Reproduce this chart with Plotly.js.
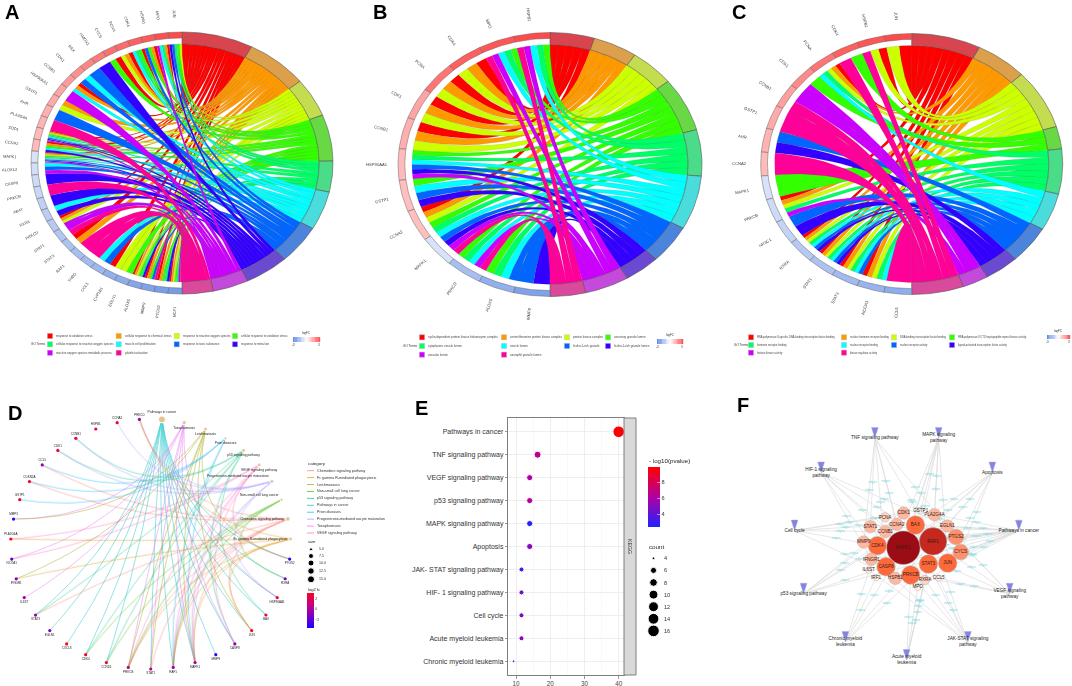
<!DOCTYPE html>
<html><head><meta charset="utf-8">
<script src="https://cdn.plot.ly/plotly-3.0.1.min.js"></script>
<style>html,body{margin:0;padding:0;background:#fff}#c{width:1072px;height:686px}</style>
</head><body><div id="c"></div>
<script>
// ---------- DATA ----------
const ribbonColors=["#FF0000","#FF9900","#CCFF00","#33FF00","#00FF66","#00FFFF","#0066FF","#3300FF","#CC00FF","#FF0099"];
const ringColors=["#d9454f","#dca04c","#c4dc50","#68d945","#4adc88","#4adcdc","#4c84dc","#6a4ad0","#c44adc","#d94a9c"];

const genesA=["JUN","MPO","HSPB1","CDK4","PCNA","CYCS","HMOX1","BAX","CDK1","CCNB1","HSP90AA1","GSTP1","AHR","PLA2G4A","SOD1","CCNA2","MAPK1","ALOX12","CASP8","PRKCB","ABAT","RXRA","PRKCD","STAT1","STAT3","RAF1","THBD","CCL5","CYP1B1","EGLN1","ALOX5","MMP9","PTGS2","NCF1"];
const linksA=["23467","01458","0136","0345","012","03","7","6","56","015","8","12","6","9","012345678","01357","012345678","568","7","9","7","57","0128","89","01","9","9","56","02","23","012347","01369","01347","0123489"];
const logFCA=[3.4,3.3,3.1,3,2.8,2.7,2.5,2.3,2.1,1.9,1.7,1.6,1.5,1.4,1.3,1.3,-0.8,-0.9,-1,-1.1,-1.3,-1.4,-1.5,-1.6,-1.7,-1.8,-1.9,-2,-2.2,-2.3,-2.5,-2.6,-2.7,-2.8];
const termsA=["response to oxidative stress","cellular response to chemical stress","response to reactive oxygen species","cellular response to oxidative stress","cellular response to reactive oxygen species","muscle cell proliferation","response to toxic substance","response to metal ion","reactive oxygen species metabolic process","platelet activation"];

const genesB=["HSPB1","MPO","CDK4","PCNA","CDK1","CCNB1","HSP90AA1","GSTP1","CCNA2","MAPK1","PRKCD","ALOX5","MMP9"];
const linksB=["34589","34589","012","012","012","012","345678","3567","01234","56789","34589","3456","67"];
const logFCB=[3.4,3.2,3,2.6,1.7,1.5,1.3,1.2,1.2,-0.8,-1.8,-2.2,-2.6];
const termsB=["cyclin-dependent protein kinase holoenzyme complex","serine/threonine protein kinase complex","protein kinase complex","secretory granule lumen","cytoplasmic vesicle lumen","vesicle lumen","ficolin-1-rich granule","ficolin-1-rich granule lumen","vacuolar lumen","azurophil granule lumen"];

const genesC=["JUN","HSPB1","CDK4","PCNA","CDK1","CCNB1","GSTP1","AHR","CCNA2","MAPK1","PRKCB","NR3C1","RXRA","STAT1","STAT3","NCOA1","CCL5"];
const linksC=["02","029","39","01245","38","89","9","67","9","3","01248","67","0124567","0124567","012456","01245","9"];
const logFCC=[3.4,3.2,3,2.6,2.2,1.8,1.6,1.4,1.3,-0.8,-1,-1.2,-1.5,-1.7,-1.9,-2.1,-2.3];
const termsC=["RNA polymerase II-specific DNA-binding transcription factor binding","nuclear hormone receptor binding","DNA-binding transcription factor binding","RNA polymerase II CTD heptapeptide repeat kinase activity","hormone receptor binding","nuclear receptor binding","nuclear receptor activity","ligand-activated transcription factor activity","histone kinase activity","kinase regulator activity"];

const dTerms=["Pathways in cancer","Toxoplasmosis","Leishmaniasis","Prion diseases","p53 signaling pathway","VEGF signaling pathway","Progesterone-mediated oocyte maturation","Non-small cell lung cancer","Chemokine signaling pathway","Fc gamma R-mediated phagocytosis"];
const dGenes=["PTGS2","RXRA","HSP90AA1","BAX","JUN","CASP8","MMP9","MAPK1","RAF1","STAT1","PRKCB","CCND1","CDK4","CXCL8","EGLN1","STAT3","IL6ST","IFNGR1","NCOA1","PLA2G4A","MMP3","GSTP1","CDKN2A","CCL5","CDK1","CCNB1","HSPB1","CCNA2","PRKCD"];
const dLogFC=[-3,-1,2.5,2.6,3,-0.6,-2.8,0.2,-0.3,0.3,0.3,2.8,3,3,-1,-0.6,-0.2,-0.8,-2,2.8,-3.5,2.6,2.6,-0.5,2.6,2.6,2.8,2.3,-0.3];
const dEdges=[
 ["PTGS2","BAX","CASP8","MMP9","CXCL8","EGLN1","CCND1","HSP90AA1","STAT3","STAT1","RAF1","MAPK1","CDK4","JUN","RXRA"],
 ["NCOA1","IL6ST","MMP3","STAT1","MAPK1","CASP8","HSP90AA1","PRKCB"],
 ["IFNGR1","MMP3","PTGS2","JUN","MAPK1","STAT1","PRKCB"],
 ["CCL5","CDKN2A","GSTP1","MAPK1","RAF1"],
 ["CCNB1","CDK1","CDK4","CASP8","BAX","CCND1","STAT3"],
 ["PLA2G4A","PTGS2","PRKCB","RAF1","MAPK1","NCOA1","CASP8"],
 ["CCNA2","CDK1","CCNB1","MAPK1","RAF1","HSP90AA1","PRKCD"],
 ["RXRA","CDK4","CCND1","PRKCB","RAF1"],
 ["CCL5","STAT1","STAT3","RAF1","MAPK1","PRKCB","PRKCD","CDKN2A","JUN"],
 ["PLA2G4A","PRKCD","PRKCB","MAPK1","RAF1","JUN","IFNGR1"]];
const dCategory=["Chemokine signaling pathway","Fc gamma R-mediated phagocytosis","Leishmaniasis","Non-small cell lung cancer","p53 signaling pathway","Pathways in cancer","Prion diseases","Progesterone-mediated oocyte maturation","Toxoplasmosis","VEGF signaling pathway"];
const dCategoryColors=["#F8766D","#D89000","#A3A500","#39B600","#00BF7D","#00BFC4","#00B0F6","#9590FF","#E76BF3","#FF62BC"];
const dSizeKeys=[5,7.5,10,12.5,15];

const ePathways=["Pathways in cancer","TNF signaling pathway","VEGF signaling pathway","p53 signaling pathway","MAPK signaling pathway","Apoptosis","JAK- STAT signaling pathway","HIF- 1 signaling pathway","Cell cycle","Acute myeloid leukemia","Chronic myeloid leukemia"];
const eRatio=[40,16.3,14,14,14,14,11.6,11.6,11.6,11.6,9.3];
const eCount=[16,7,6,6,6,6,5,5,5,5,4];
const ePvalue=[9.8,6.7,6,6.2,2.5,5,3.5,4.4,4.6,5,3.5];
const eCountKeys=[4,6,8,10,12,14,16];

const fPathways=["MAPK signaling<br>pathway","Apoptosis","Pathways in cancer","VEGF signaling<br>pathway","JAK-STAT signaling<br>pathway","Acute myeloid<br>leukemia","Chronic myeloid<br>leukemia","p53 signaling pathway","Cell cycle","HIF-1 signaling<br>pathway","TNF signaling pathway"];
const fGenes=["MAPK1","RAF1","BAX","CDK4","CASP8","PRKCB","STAT3","JUN","CYCS","PTGS2","EGLN1","PLA2G4A","GSTP1","CDK1","PCNA","CCNA2","CCNB1","STAT1","MMP9","IFNGR1","IL6ST","IRF1","HSPB1","RXRA","MPO","CCL5"];
const fGeneDegree=[10,8,5,5,5,5,5,5,4,4,3,3,1,3,2,3,3,3,3,3,1,1,3,2,1,1];
const fLayoutX=[-10,79,26,-88,-62,12,65,123,162,148,122,83,42,-9,-65,-30,-64,-109,-129,-106,-114,-92,-34,55,33,96];
const fLayoutY=[-3,16,65,3,-60,-85,-52,-49,-16,29,62,96,109,101,88,67,45,60,14,-38,-70,-93,-95,-100,-122,-94];
const fEdges=[
 ["MAPK1","RAF1","PRKCB","HSPB1","JUN","PLA2G4A","CASP8","GSTP1"],
 ["BAX","CASP8","CYCS","JUN","MAPK1","RAF1","EGLN1"],
 ["MAPK1","RAF1","BAX","CDK4","CASP8","PRKCB","STAT3","JUN","CYCS","PTGS2","EGLN1","STAT1","MMP9","IFNGR1","RXRA","PLA2G4A"],
 ["MAPK1","RAF1","PRKCB","PTGS2","PLA2G4A","CCL5"],
 ["STAT1","STAT3","RAF1","IFNGR1","IL6ST","MAPK1","CCL5"],
 ["RAF1","STAT3","PRKCB","RXRA","MPO"],
 ["MAPK1","RAF1","CDK4","STAT3","IRF1"],
 ["CDK4","CDK1","CCNB1","BAX","CASP8","CYCS"],
 ["CDK1","CDK4","CCNA2","CCNB1","PCNA","HSPB1"],
 ["EGLN1","RAF1","MAPK1","STAT3","IFNGR1","HSPB1"],
 ["MAPK1","CASP8","JUN","PTGS2","MMP9","CCNA2","STAT1"]];

// ---------- HELPERS ----------
const W=1072,H=686,FONT='"Liberation Sans",Arial,sans-serif';
const PX=v=>v/W, PY=v=>1-v/H;
const traces=[],shapes=[],annotations=[],layout={};
function ann(text,x,y,size,o={}){annotations.push(Object.assign({text,x:PX(x),y:PY(y),xref:'paper',yref:'paper',showarrow:false,
  xanchor:'left',yanchor:'middle',borderpad:0,font:{family:FONT,size,color:o.color||'#222'}},o.extra||{}));}
function axes(n,cx,cy,rx,ry,R){const s=n==1?'':n;
  layout['xaxis'+s]={domain:[PX(cx-rx*R),PX(cx+rx*R)],range:[-R,R],visible:false,fixedrange:true,anchor:'y'+s};
  layout['yaxis'+s]={domain:[PY(cy+ry*R),PY(cy-ry*R)],range:[-R,R],visible:false,fixedrange:true,anchor:'x'+s};
  return {x:'x'+s,y:'y'+s};}
function mix(a,b,t){const p=h=>[1,3,5].map(i=>parseInt(h.substr(i,2),16));const A=p(a),B=p(b);
  return 'rgb('+A.map((v,i)=>Math.round(v+(B[i]-v)*t)).join(',')+')';}
function fcColor(v){return v>=0?mix('#ffffff','#ff2a2a',Math.min(1,v/4)):mix('#ffffff','#3a70e0',Math.min(1,-v/4));}
const rad=d=>d*Math.PI/180;
function arcPts(a,b,r,side){const n=Math.max(2,Math.ceil(Math.abs(b-a)/1.5)),o=[];
  for(let i=0;i<=n;i++){const t=rad(a+(b-a)*i/n);o.push([side*Math.sin(t)*r,Math.cos(t)*r]);}return o;}
function bez(p,q){const o=[];for(let i=1;i<20;i++){const t=i/20;o.push([p[0]*(1-t)*(1-t)+q[0]*t*t,p[1]*(1-t)*(1-t)+q[1]*t*t]);}return o;}

function chord(n,genes,links,logFC,terms,g){
  const ax=axes(n,g.cx,g.cy,g.rx,g.ry,1.05),RI=0.908,ng=genes.length,uG=180/ng;
  const all=[];links.forEach((s,i)=>s.split('').forEach((c,k)=>all.push({g:i,t:+c,k,m:s.length})));
  const uT=180/all.length,polys=ribbonColors.map(()=>({x:[],y:[]}));let phi=0;const bounds=[];
  ribbonColors.forEach((col,t)=>{const L=all.filter(l=>l.t==t).sort((a,b)=>a.g-b.g);const st=phi;
    L.forEach(l=>{const f1=phi,f2=phi+uT;phi=f2;const w=uG/l.m,a1=l.g*uG+l.k*w,a2=a1+w;
      const A=arcPts(f1,f2,RI,1),B=arcPts(a2,a1,RI,-1);
      const path=[...A,...bez(A[A.length-1],B[0]),...B,...bez(B[B.length-1],A[0])];
      path.forEach(p=>{polys[t].x.push(p[0]);polys[t].y.push(p[1]);});polys[t].x.push(null);polys[t].y.push(null);});
    bounds.push([st,phi]);});
  polys.forEach((p,t)=>traces.push({type:'scatter',mode:'lines',x:p.x,y:p.y,fill:'toself',fillcolor:ribbonColors[t],
    line:{color:'rgba(110,110,110,0.45)',width:0.3},hoverinfo:'skip',xaxis:ax.x,yaxis:ax.y}));
  bounds.forEach((b,t)=>{const P=[...arcPts(b[0],b[1],1,1),...arcPts(b[1],b[0],RI,1)];P.push(P[0]);
    traces.push({type:'scatter',mode:'lines',x:P.map(p=>p[0]),y:P.map(p=>p[1]),fill:'toself',fillcolor:ringColors[t],
      line:{color:'#555',width:0.6},hoverinfo:'skip',xaxis:ax.x,yaxis:ax.y});});
  genes.forEach((name,i)=>{const P=[...arcPts(i*uG,(i+1)*uG,1,-1),...arcPts((i+1)*uG,i*uG,0.955,-1)];P.push(P[0]);
    traces.push({type:'scatter',mode:'lines',x:P.map(p=>p[0]),y:P.map(p=>p[1]),fill:'toself',fillcolor:fcColor(logFC[i]),
      line:{color:'#666',width:0.5},hoverinfo:'skip',xaxis:ax.x,yaxis:ax.y});
    const th=(i+.5)*uG,r=1.14;
    ann(name,g.cx-g.rx*r*Math.sin(rad(th)),g.cy-g.ry*r*Math.cos(rad(th)),g.lab,{color:'#444',extra:{xanchor:'center',textangle:90-th}});});
  const L=g.leg;
  ann('GO Terms',L.go,L.rows[1],3.1,{color:'#333'});
  const pos=[[0,0],[1,0],[2,0],[3,0],[0,1],[1,1],[2,1],[3,1],[0,2],[1,2]];
  terms.forEach((t,i)=>{const x=L.cols[pos[i][0]],y=L.rows[pos[i][1]];
    shapes.push({type:'rect',xref:'paper',yref:'paper',x0:PX(x-2.6),x1:PX(x+2.6),y0:PY(y+2.6),y1:PY(y-2.6),fillcolor:ribbonColors[i],line:{color:'#bbb',width:0.4}});
    ann(t,x+5,y,L.fs,{color:'#444'});});
  const b=L.bar,K=20;
  for(let i=0;i<K;i++){const v=-3.4+6.8*(i+.5)/K;shapes.push({type:'rect',xref:'paper',yref:'paper',layer:'below',
    x0:PX(b.x0+(b.x1-b.x0)*i/K),x1:PX(b.x0+(b.x1-b.x0)*(i+1)/K+.2),y0:PY(b.y1),y1:PY(b.y0),fillcolor:fcColor(v),line:{width:0}});}
  ann('logFC',(b.x0+b.x1)/2,b.y0-3.6,3,{color:'#333',extra:{xanchor:'center'}});
  ann('-3',b.x0,b.y1+2.8,3,{color:'#333',extra:{xanchor:'center'}});
  ann('3',b.x1-1,b.y1+2.8,3,{color:'#333',extra:{xanchor:'center'}});
}
chord(1,genesA,linksA,logFCA,termsA,{cx:182,cy:163,rx:151,ry:131,lab:4,
  leg:{go:30,cols:[50,118.7,176.7,235],rows:[336,344.3,352.8],fs:2.95,bar:{x0:293,x1:320,y0:337,y1:342}}});
chord(2,genesB,linksB,logFCB,termsB,{cx:550,cy:164.5,rx:152,ry:132,lab:4.2,
  leg:{go:402,cols:[422,504,567,608],rows:[337.3,346,354.7],fs:2.95,bar:{x0:657,x1:683,y0:339,y1:344}}});
chord(3,genesC,linksC,logFCC,termsC,{cx:911.7,cy:164,rx:151,ry:130.5,lab:4.2,
  leg:{go:733,cols:[751,844,894,952],rows:[337.3,345,352.7],fs:2.6,bar:{x0:1047,x1:1070,y0:335,y1:339}}});

// ---------- D: circular gene-concept network ----------
(function(){
  const ax=axes(4,150.7,544,140,125,1.05),N=dTerms.length+dGenes.length,step=360/N;
  const pos=i=>{const a=rad(4.6+step*i);return [Math.sin(a),Math.cos(a)];};
  const geneXY=g=>pos(dTerms.length+dGenes.indexOf(g));
  dEdges.forEach((list,t)=>{const xs=[],ys=[],p=pos(t);
    list.forEach(g=>{const q=geneXY(g),mx=(p[0]+q[0])/2,my=(p[1]+q[1])/2,c=[mx*0.35,my*0.35];
      for(let i=0;i<=30;i++){const u=i/30,v=1-u;xs.push(v*v*p[0]+2*u*v*c[0]+u*u*q[0]);ys.push(v*v*p[1]+2*u*v*c[1]+u*u*q[1]);}
      xs.push(null);ys.push(null);});
    const col=dCategoryColors[dCategory.indexOf(dTerms[t])];
    traces.push({type:'scatter',mode:'lines',x:xs,y:ys,line:{color:col,width:0.6},opacity:0.7,hoverinfo:'skip',xaxis:ax.x,yaxis:ax.y});});
  const tp=dTerms.map((_,i)=>pos(i));
  traces.push({type:'scatter',mode:'markers+text',x:tp.map(p=>p[0]),y:tp.map(p=>p[1]),text:dTerms,
    textposition:dTerms.map((_,i)=>i==0?'top center':(i<6?'bottom center':(i<8?'top left':'middle left'))),textfont:{family:FONT,size:3.3,color:'#222'},
    marker:{color:'#E5C494',opacity:1,size:dEdges.map(l=>3+0.4*(l.length-5))},cliponaxis:false,hoverinfo:'skip',xaxis:ax.x,yaxis:ax.y});
  const gp=dGenes.map(geneXY);
  traces.push({type:'scatter',mode:'markers+text',x:gp.map(p=>p[0]),y:gp.map(p=>p[1]),text:dGenes,
    textposition:gp.map(p=>p[1]>0?'top center':'bottom center'),textfont:{family:FONT,size:3,color:'#222'},
    marker:{size:3.2,opacity:1,color:dLogFC,cmin:-3.5,cmax:3,colorscale:[[0,'#2000ff'],[0.55,'#b000a0'],[1,'#ff0020']],
      colorbar:{x:PX(307),xanchor:'left',xpad:0,y:PY(593),yanchor:'top',ypad:0,lenmode:'pixels',len:35,thicknessmode:'pixels',thickness:7,
        outlinewidth:0,tickvals:[2,0,-2],ticklen:0,tickfont:{family:FONT,size:3.6,color:'#333'}}},
    cliponaxis:false,hoverinfo:'skip',xaxis:ax.x,yaxis:ax.y});
  ann('category',307,463,4.4);
  dCategory.forEach((c,i)=>{const y=470.7+i*6.92;
    shapes.push({type:'line',xref:'paper',yref:'paper',x0:PX(307),x1:PX(314),y0:PY(y),y1:PY(y),line:{color:dCategoryColors[i],width:0.7}});
    ann(c,316,y,3.65,{color:'#333'});});
  ann('size',307,541.7,4.2);
  ann('log2 fc',307,589,4.2);
})();

// ---------- overlay axis holding the legend keys of D and E ----------
layout.xaxis7={domain:[0,1],range:[0,W],visible:false,fixedrange:true,anchor:'y7'};
layout.yaxis7={domain:[0,1],range:[H,0],visible:false,fixedrange:true,anchor:'x7'};
const dKeyY=[549.3,556,563,571,579.3],dKeySize=[3,5,6,6.5,7];
traces.push({type:'scatter',mode:'markers',x:dSizeKeys.map(()=>311),y:dKeyY,marker:{color:'#000',opacity:1,size:dKeySize},showlegend:false,hoverinfo:'skip',xaxis:'x7',yaxis:'y7'});
dSizeKeys.forEach((s,i)=>ann(s.toFixed(1),318,dKeyY[i],3.6,{color:'#333'}));

// ---------- E: dot plot ----------
const dotD=c=>c==4?2.6:1.85*(1+5*Math.sqrt((c-4)/12))+0.5;
layout.xaxis5={domain:[PX(508.3),PX(624)],range:[7.75,41.55],tickvals:[10,20,30,40],ticks:'outside',ticklen:2.5,tickwidth:0.6,tickcolor:'#555',
  tickfont:{family:FONT,size:6.3,color:'#444'},showgrid:true,gridcolor:'#e6e6e6',gridwidth:0.6,
  minor:{dtick:5,showgrid:true,gridcolor:'#f1f1f1',gridwidth:0.4},zeroline:false,showline:true,linecolor:'#7f7f7f',linewidth:1,mirror:true,anchor:'y5',fixedrange:true};
layout.yaxis5={domain:[PY(675),PY(418)],type:'category',categoryorder:'array',categoryarray:ePathways,range:[10.6,-0.6],
  ticks:'outside',ticklen:2.5,tickwidth:0.6,tickcolor:'#555',tickfont:{family:FONT,size:7,color:'#333'},showgrid:true,gridcolor:'#ebebeb',gridwidth:0.8,
  zeroline:false,showline:true,linecolor:'#7f7f7f',linewidth:1,mirror:true,anchor:'x5',fixedrange:true};
traces.push({type:'scatter',mode:'markers',x:eRatio,y:ePathways,xaxis:'x5',yaxis:'y5',hoverinfo:'skip',cliponaxis:false,
  marker:{opacity:1,size:eCount.map(dotD),color:ePvalue,cmin:2.4,cmax:9.9,colorscale:[[0,'#2222ff'],[0.5,'#b000a0'],[1,'#ff0000']],
    colorbar:{x:PX(648),xanchor:'left',xpad:0,y:PY(467),yanchor:'top',ypad:0,lenmode:'pixels',len:60,thicknessmode:'pixels',thickness:12,outlinewidth:0,
      tickvals:[4,6,8],ticks:'inside',tickcolor:'#fff',ticklen:2.5,tickwidth:0.5,tickfont:{family:FONT,size:5.6,color:'#333'}}}});
shapes.push({type:'rect',xref:'paper',yref:'paper',x0:PX(624),x1:PX(636),y0:PY(675),y1:PY(418),fillcolor:'#d9d9d9',line:{color:'#7f7f7f',width:1}});
ann('KEGG',630,546,5.2,{color:'#333',extra:{xanchor:'center',textangle:90}});
ann('- log10(pvalue)',648,460,6.2);
ann('count',648,546,6.2);
const eKeyY=eCountKeys.map((_,i)=>558.3+i*12.1);
traces.push({type:'scatter',mode:'markers',x:eCountKeys.map(()=>653.5),y:eKeyY,marker:{color:'#000',opacity:1,size:eCountKeys.map(dotD)},hoverinfo:'skip',xaxis:'x7',yaxis:'y7'});
eCountKeys.forEach((c,i)=>ann(String(c),663,eKeyY[i],5.6,{color:'#333'}));

// ---------- F: network ----------
(function(){
  const S=340,R=1.05,cx=906.7,cy=546.7,rr=113.3;
  layout.xaxis6={domain:[PX(cx-rr*R),PX(cx+rr*R)],range:[-S*R,S*R],visible:false,fixedrange:true,anchor:'y6'};
  layout.yaxis6={domain:[PY(cy+rr*R),PY(cy-rr*R)],range:[-S*R,S*R],visible:false,fixedrange:true,anchor:'x6'};
  const P=fPathways.map((_,i)=>{const a=rad(16.4+i*360/11);return [S*Math.sin(a),S*Math.cos(a)];});
  const xs=[],ys=[],mx=[],my=[];
  fEdges.forEach((l,i)=>l.forEach(g=>{const j=fGenes.indexOf(g),x=fLayoutX[j],y=fLayoutY[j];
    xs.push(P[i][0],x,null);ys.push(P[i][1],y,null);mx.push((P[i][0]+x)/2);my.push((P[i][1]+y)/2);}));
  traces.push({type:'scatter',mode:'lines',x:xs,y:ys,line:{color:'#dddddd',width:0.7},hoverinfo:'skip',xaxis:'x6',yaxis:'y6'});
  traces.push({type:'scatter',mode:'text',x:mx,y:my,text:mx.map(()=>'edges'),textfont:{family:FONT,size:3.2,color:'#74d6e0'},hoverinfo:'skip',xaxis:'x6',yaxis:'y6'});
  traces.push({type:'scatter',mode:'markers+text',x:fLayoutX,y:fLayoutY,text:fGenes,textposition:'middle center',textfont:{family:FONT,size:4.6,color:'#3a1a14'},
    marker:{opacity:1,size:fGeneDegree.map(d=>3*d+3.5),color:fGeneDegree,cmin:1,cmax:10,
      colorscale:[[0,'#fff2ea'],[0.22,'#ffb8a0'],[0.44,'#ff6a3c'],[0.78,'#c4281f'],[1,'#9c0c14']],line:{color:'#b0b0b0',width:0.5}},hoverinfo:'skip',xaxis:'x6',yaxis:'y6'});
  traces.push({type:'scatter',mode:'markers+text',x:P.map(p=>p[0]),y:P.map(p=>p[1]),text:fPathways,textposition:'middle center',textfont:{family:FONT,size:4.7,color:'#222'},
    marker:{symbol:'arrow',angle:180,size:11,opacity:1,color:'#8484e6',line:{color:'#a8a8c8',width:0.4}},cliponaxis:false,hoverinfo:'skip',xaxis:'x6',yaxis:'y6'});
})();

// ---------- panel letters ----------
[['A',4,12.5],['B',372,12.5],['C',731,12.5],['D',7,413],['E',414,408],['F',736,405]].forEach(l=>
  annotations.push({text:'<b>'+l[0]+'</b>',x:PX(l[1]),y:PY(l[2]),xref:'paper',yref:'paper',showarrow:false,xanchor:'left',yanchor:'middle',borderpad:0,
    font:{family:FONT,size:20,color:'#000'}}));

Object.assign(layout,{width:W,height:H,margin:{l:0,r:0,t:0,b:0},paper_bgcolor:'#fff',plot_bgcolor:'rgba(0,0,0,0)',showlegend:false,shapes,annotations,font:{family:FONT}});
Plotly.newPlot('c',traces,layout,{displayModeBar:false,staticPlot:true});
</script></body></html>
